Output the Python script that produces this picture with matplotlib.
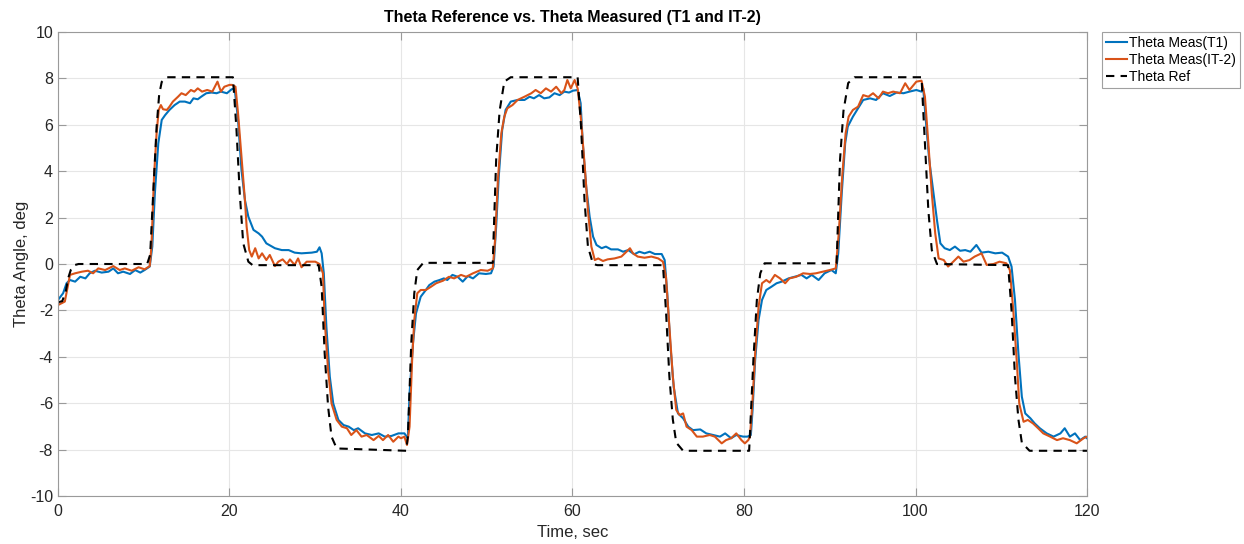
import matplotlib
matplotlib.use("Agg")
import matplotlib.pyplot as plt

plt.rcParams['font.family'] = ['Liberation Sans', 'DejaVu Sans']
plt.rcParams['axes.unicode_minus'] = False

# Reference angle (deg) vs time (s)
t_ref = [0, 0.5, 0.9, 1.2, 1.5, 1.9, 2.4,
         10.4, 10.75, 11.1, 11.5, 11.8, 12.1, 12.7,
         20.4, 20.8, 21.2, 21.6, 22.2, 22.7,
         30.4, 30.75, 31.1, 31.5, 31.9, 32.5,
         40.6, 40.8, 41.2, 41.55, 41.9, 42.6,
         50.7, 50.9, 51.1, 51.5, 52.05, 52.8,
         60.6, 61.0, 61.4, 61.8, 62.4, 62.9,
         70.55, 70.9, 71.3, 71.7, 72.1, 72.9,
         80.6, 81.1, 81.5, 81.9, 82.4,
         90.8, 91.0, 91.2, 91.6, 92.15, 92.9,
         100.7, 101.1, 101.5, 101.9, 102.5,
         110.8, 111.2, 111.6, 112.0, 112.4, 113.3, 120.0]
theta_ref = [-1.65, -1.6, -1.2, -0.6, -0.25, -0.05, 0.0,
             0.0, 0.4, 3.0, 5.9, 7.3, 7.85, 8.05,
             8.05, 5.9, 3.05, 0.9, 0.1, -0.05,
             -0.05, -1.0, -3.85, -6.15, -7.44, -7.95,
             -8.05, -7.44, -3.4, -1.26, -0.26, 0.05,
             0.05, 2.3, 4.5, 6.6, 7.86, 8.05,
             8.05, 5.9, 2.76, 0.75, 0.0, -0.05,
             -0.05, -2.0, -4.86, -6.7, -7.7, -8.05,
             -8.05, -4.1, -1.55, -0.4, 0.03,
             0.03, 2.3, 4.5, 6.6, 7.8, 8.05,
             8.05, 5.2, 2.3, 0.6, 0.0,
             -0.05, -2.0, -4.86, -6.7, -7.7, -8.05, -8.05]

# Measured angle, T1 controller
t_t1 = [0, 0.6, 1.0, 1.4, 2.0, 2.6, 3.2, 3.7, 4.3, 5.1, 5.9, 6.45, 7.0, 7.6, 8.4, 9.0, 9.6, 10.1, 10.7,
        11.0, 11.3, 11.7, 12.1, 12.5, 13.0, 13.6, 14.2, 14.8, 15.4, 15.8, 16.3, 16.7, 17.3, 17.9, 18.5,
        19.0, 19.7, 20.25, 20.6,
        21.0, 21.4, 21.8, 22.2, 22.8, 23.4, 23.8, 24.3, 25.3, 26.1, 26.9, 27.6, 28.4, 29.6, 30.2, 30.5, 30.75,
        31.0, 31.3, 31.7, 32.1, 32.7, 33.3, 33.9, 34.5, 35.0, 35.8, 36.6, 37.4, 38.1, 38.9, 39.7, 40.4, 40.8,
        41.0, 41.4, 41.75, 42.3, 42.9, 43.3, 43.9, 44.5, 45.0, 45.4, 46.0, 46.6, 47.2, 47.8, 48.4, 49.1,
        49.9, 50.5, 50.8,
        51.1, 51.4, 51.8, 52.2, 52.8, 53.6, 54.4, 55.0, 55.5, 56.1, 56.7, 57.3, 57.9, 58.5, 59.05, 59.6,
        60.05, 60.6, 60.95,
        61.2, 61.6, 62.0, 62.4, 62.8, 63.4, 63.9, 64.5, 65.3, 65.9, 66.5, 67.2, 67.8, 68.4, 69.0, 69.6,
        70.4, 70.75,
        71.05, 71.4, 71.8, 72.3, 72.9, 73.5, 74.05, 74.9, 75.6, 76.4, 77.2, 77.8, 78.5, 79.1, 79.9, 80.4, 80.8,
        81.0, 81.3, 81.7, 82.1, 82.6, 83.2, 83.8, 84.4, 85.2, 85.9, 86.7, 87.3, 87.9, 88.7, 89.4, 90.2, 90.7,
        90.99, 91.4, 91.8, 92.1, 92.7, 93.3, 93.9, 94.7, 95.4, 96.2, 97.0, 97.8, 98.6, 99.3, 100.1, 100.7, 100.9,
        101.2, 101.6, 102.1, 102.5, 102.9, 103.4, 104.0, 104.6, 105.2, 105.8, 106.4, 107.1, 107.7, 108.5,
        109.3, 110.1, 110.8,
        111.2, 111.6, 112.0, 112.4, 112.8, 113.4, 113.9, 114.5, 115.3, 116.1, 116.9, 117.4, 118.0, 118.6,
        119.2, 119.8, 120.0]
theta_t1 = [-1.55, -1.26, -0.83, -0.69, -0.76, -0.55, -0.62, -0.40, -0.29, -0.37, -0.33, -0.19, -0.40, -0.33,
            -0.43, -0.26, -0.37, -0.26, -0.11,
            0.75, 3.05, 5.20, 6.21, 6.42, 6.64, 6.85, 7.00, 7.00, 6.93, 7.14, 7.10, 7.21, 7.36, 7.39, 7.36,
            7.43, 7.36, 7.53, 7.57,
            6.21, 4.05, 2.76, 2.04, 1.47, 1.32, 1.18, 0.89, 0.68, 0.60, 0.60, 0.49, 0.46, 0.49, 0.53, 0.72, 0.46,
            -0.40, -2.70, -4.86, -6.01, -6.72, -6.94, -7.01, -7.16, -7.08, -7.30, -7.37, -7.30, -7.44, -7.41,
            -7.30, -7.30, -7.51,
            -5.57, -3.42, -2.13, -1.41, -1.12, -0.91, -0.76, -0.69, -0.62, -0.69, -0.47, -0.55, -0.76, -0.52,
            -0.62, -0.40, -0.43, -0.40, -0.11,
            1.61, 3.76, 5.78, 6.64, 7.00, 7.07, 7.07, 7.21, 7.14, 7.28, 7.14, 7.18, 7.36, 7.28, 7.43, 7.39,
            7.47, 7.50, 6.93,
            5.20, 3.33, 2.04, 1.18, 0.82, 0.68, 0.75, 0.63, 0.63, 0.53, 0.60, 0.42, 0.53, 0.46, 0.53, 0.43,
            0.43, 0.17,
            -1.26, -3.42, -5.29, -6.44, -6.65, -7.01, -7.16, -7.13, -7.30, -7.37, -7.44, -7.30, -7.51, -7.37,
            -7.44, -7.44, -7.37,
            -6.29, -4.14, -2.41, -1.55, -1.12, -0.98, -0.83, -0.76, -0.62, -0.55, -0.47, -0.62, -0.47, -0.69,
            -0.40, -0.26, -0.40,
            0.46, 3.05, 5.20, 5.92, 6.35, 6.71, 7.07, 7.14, 7.07, 7.36, 7.24, 7.39, 7.36, 7.43, 7.50, 7.43, 7.57,
            6.21, 4.48, 3.05, 1.90, 0.89, 0.68, 0.60, 0.75, 0.57, 0.60, 0.53, 0.82, 0.49, 0.53,
            0.46, 0.49, 0.32,
            -0.11, -1.55, -3.85, -5.72, -6.44, -6.65, -6.87, -7.08, -7.30, -7.44, -7.30, -7.08, -7.44, -7.30,
            -7.59, -7.44, -7.51]

# Measured angle, IT-2 controller
t_it2 = [0, 0.8, 1.4, 2.0, 2.8, 3.5, 4.1, 4.7, 5.5, 6.45, 7.2, 7.8, 8.6, 9.4, 10.1, 10.7,
         10.9, 11.2, 11.5, 11.75, 12.0, 12.25, 12.7, 13.0, 13.4, 14.0, 14.4, 14.9, 15.5, 15.9, 16.3, 16.8,
         17.4, 18.0, 18.6, 19.0, 19.4, 20.0, 20.3, 20.7,
         21.0, 21.4, 21.8, 22.0, 22.3, 22.6, 23.0, 23.4, 23.8, 24.3, 24.7, 25.3, 25.7, 26.2, 26.7, 27.05,
         27.6, 28.0, 28.4, 29.0, 30.0, 30.5, 30.9,
         31.1, 31.5, 31.9, 32.5, 33.1, 33.7, 34.2, 34.8, 35.4, 36.0, 36.8, 37.4, 37.9, 38.5, 39.1, 39.7,
         40.0, 40.4, 40.7,
         41.0, 41.3, 41.55, 41.9, 42.3, 42.9, 43.5, 44.1, 44.9, 45.6, 46.2, 47.0, 47.6, 48.4, 49.3, 50.1, 50.7,
         50.97, 51.3, 51.7, 52.05, 52.4, 53.0, 53.6, 54.4, 55.2, 55.7, 56.3, 56.9, 57.5, 58.1, 58.7, 59.05,
         59.4, 59.8, 60.25, 60.6,
         61.0, 61.4, 61.8, 62.2, 62.6, 63.0, 63.55, 64.1, 64.9, 65.7, 66.3, 66.7, 67.05, 67.6, 68.4, 69.2,
         70.0, 70.55, 70.9,
         71.3, 71.7, 72.1, 72.5, 72.9, 73.3, 73.9, 74.5, 75.2, 76.0, 76.6, 77.4, 77.9, 78.5, 79.1, 79.7,
         80.1, 80.5, 80.7,
         81.0, 81.3, 81.7, 82.1, 82.6, 83.0, 83.6, 84.2, 84.8, 85.3, 86.1, 86.9, 87.7, 88.4, 89.2, 90.0, 90.7,
         91.05, 91.45, 91.85, 92.2, 92.7, 93.3, 93.9, 94.5, 95.05, 95.7, 96.2, 96.8, 97.4, 98.2, 98.8, 99.3,
         100.1, 100.7,
         101.1, 101.5, 101.9, 102.3, 102.7, 103.3, 103.8, 104.4, 105.0, 105.6, 106.3, 106.9, 107.7, 108.3,
         109.1, 109.8, 110.6, 111.0,
         111.4, 111.8, 112.1, 112.6, 113.1, 113.7, 114.3, 114.9, 115.7, 116.5, 117.2, 118.0, 118.8, 119.6, 120.0]
theta_it2 = [-1.77, -1.62, -0.47, -0.40, -0.33, -0.29, -0.40, -0.19, -0.26, -0.09, -0.26, -0.19, -0.29, -0.14,
             -0.23, -0.09,
             0.75, 3.76, 5.63, 6.64, 6.85, 6.67, 6.64, 6.78, 7.00, 7.21, 7.36, 7.28, 7.50, 7.43, 7.57, 7.43,
             7.50, 7.43, 7.86, 7.43, 7.64, 7.72, 7.72, 7.64,
             6.49, 4.63, 2.76, 1.61, 0.60, 0.32, 0.68, 0.24, 0.46, 0.17, 0.39, -0.09, 0.10, 0.20, 0.00, 0.20,
             -0.04, 0.24, -0.14, 0.10, 0.10, 0.00, -0.40,
             -2.41, -4.57, -6.01, -6.72, -7.01, -7.08, -7.37, -7.16, -7.44, -7.37, -7.59, -7.41, -7.59, -7.37,
             -7.66, -7.44, -7.51, -7.44, -7.80,
             -7.01, -4.14, -2.41, -1.26, -1.12, -1.12, -0.98, -0.83, -0.72, -0.55, -0.62, -0.47, -0.55, -0.40,
             -0.26, -0.29, -0.19,
             1.03, 3.62, 5.63, 6.35, 6.71, 6.85, 7.07, 7.21, 7.36, 7.50, 7.36, 7.57, 7.43, 7.64, 7.36, 7.50,
             7.93, 7.57, 7.93, 7.57,
             6.21, 4.34, 2.33, 0.75, 0.17, 0.24, 0.13, 0.20, 0.24, 0.32, 0.53, 0.68, 0.46, 0.32, 0.27, 0.32,
             0.24, 0.10, -0.55,
             -2.70, -4.86, -6.29, -6.51, -6.44, -7.01, -7.16, -7.44, -7.44, -7.37, -7.44, -7.73, -7.59, -7.51,
             -7.30, -7.59, -7.73, -7.59, -7.44,
             -5.86, -3.85, -1.84, -0.83, -0.69, -0.80, -0.47, -0.62, -0.83, -0.62, -0.55, -0.40, -0.43, -0.40,
             -0.33, -0.26, -0.19,
             1.32, 3.76, 5.63, 6.35, 6.64, 6.78, 7.28, 7.21, 7.36, 7.14, 7.43, 7.36, 7.43, 7.36, 7.79, 7.50,
             7.86, 7.90,
             7.21, 5.20, 3.05, 1.32, 0.24, 0.17, -0.11, 0.10, 0.32, 0.10, 0.17, 0.32, 0.46, -0.04,
             0.00, 0.10, 0.03, -0.26,
             -1.98, -4.14, -6.01, -6.80, -6.72, -6.87, -7.08, -7.30, -7.44, -7.59, -7.51, -7.59, -7.73, -7.51, -7.44]

x_ticks = [0, 20, 40, 60, 80, 100, 120]
y_ticks = [-10, -8, -6, -4, -2, 0, 2, 4, 6, 8, 10]

fig = plt.figure(figsize=(12.44, 5.44), dpi=100, facecolor='white')
ax = fig.add_axes([0.0466, 0.0882, 0.8272, 0.8530])

ax.plot(t_t1, theta_t1, color='#0072BD', linewidth=1.5, label='Theta Meas(T1)')
ax.plot(t_it2, theta_it2, color='#D95319', linewidth=1.5, label='Theta Meas(IT-2)')
ax.plot(t_ref, theta_ref, color='black', linewidth=1.5, linestyle=(0, (4, 3)), label='Theta Ref')

ax.set_xlim(0, 120)
ax.set_ylim(-10, 10)
ax.set_xticks(x_ticks)
ax.set_yticks(y_ticks)
ax.grid(True, color='#e6e6e6', linewidth=0.8)
ax.set_axisbelow(True)

for s in ax.spines.values():
    s.set_color('#9a9a9a')
    s.set_linewidth(0.8)
ax.tick_params(direction='in', length=6, width=0.8, color='#9a9a9a', labelcolor='#262626',
               labelsize=11.5, top=True, right=True)
ax.tick_params(axis='x', pad=6)

ax.set_xlabel('Time, sec', fontsize=12, color='#262626', labelpad=4)
ax.set_ylabel('Theta Angle, deg', fontsize=12, color='#262626', labelpad=1)
ax.set_title('Theta Reference vs. Theta Measured (T1 and IT-2)', fontsize=11.5, fontweight='bold',
             color='black', pad=7)

leg = ax.legend(loc='upper left', bbox_to_anchor=(1.0146, 1.0), borderaxespad=0, fontsize=10,
                handlelength=1.5, handletextpad=0.15, labelspacing=0.2, borderpad=0.3,
                fancybox=False, framealpha=1, edgecolor='#a0a0a0')
leg.get_frame().set_linewidth(0.8)

fig.savefig('out.png', dpi=100, facecolor='white')
